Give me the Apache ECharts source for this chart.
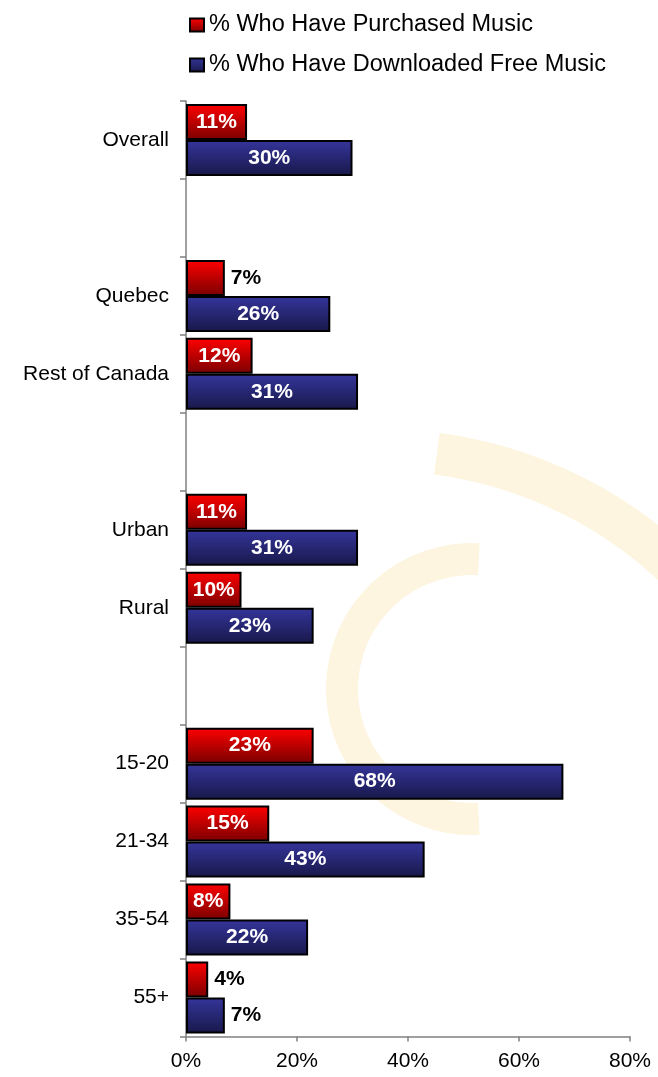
<!DOCTYPE html>
<html><head><meta charset="utf-8">
<script src="https://cdn.jsdelivr.net/npm/echarts@6/dist/echarts.min.js"></script>
<style>html,body{margin:0;padding:0;background:#fff}#c{width:658px;height:1077px}</style>
</head><body><div id="c"></div>
<script>
const categories = ['Overall', ' ', 'Quebec', 'Rest of Canada', '  ', 'Urban', 'Rural', '   ', '15-20', '21-34', '35-54', '55+'];
const purchased = [11, null, 7, 12, null, 11, 10, null, 23, 15, 8, 4];
const downloadedFree = [30, null, 26, 31, null, 31, 23, null, 68, 43, 22, 7];
const seriesNames = ['% Who Have Purchased Music', '% Who Have Downloaded Free Music'];
const xTickValues = [0, 20, 40, 60, 80];

const FONT = 'Liberation Sans, Arial, sans-serif';
const redGrad = new echarts.graphic.LinearGradient(0, 0, 0, 1, [
  {offset: 0, color: '#ff0000'}, {offset: 1, color: '#7a0000'}]);
const blueGrad = new echarts.graphic.LinearGradient(0, 0, 0, 1, [
  {offset: 0, color: '#35359c'}, {offset: 1, color: '#18184a'}]);

function withLabels(arr) {
  return arr.map(v => {
    if (v === null) return null;
    if (v < 8) return {value: v, label: {position: 'right', color: '#000', distance: 6}};
    return v;
  });
}

const chart = echarts.init(document.getElementById('c'), null, {renderer: 'canvas'});
const labelBase = {show: true, position: 'inside', color: '#fff', fontWeight: 'bold', fontSize: 21, fontFamily: FONT, formatter: p => p.value + '%'};

chart.setOption({
  animation: false,
  backgroundColor: '#ffffff',
  textStyle: {fontFamily: FONT},
  graphic: [
    {type: 'arc', z: -10, silent: true,
      shape: {cx: 380, cy: 880, r: 430, startAngle: -82.4 * Math.PI / 180, endAngle: -5 * Math.PI / 180, clockwise: true},
      style: {stroke: '#fdf5e0', lineWidth: 42, fill: null}},
    {type: 'arc', z: -10, silent: true,
      shape: {cx: 472, cy: 689, r: 130, startAngle: 87 * Math.PI / 180, endAngle: 273 * Math.PI / 180, clockwise: true},
      style: {stroke: '#fdf5e0', lineWidth: 32, fill: null}}
  ],
  legend: {
    orient: 'vertical', left: 184, top: 8,
    icon: 'rect',
    itemWidth: 14, itemHeight: 13, itemGap: 16,
    textStyle: {fontSize: 23.5, color: '#000', fontFamily: FONT},
    data: seriesNames
  },
  grid: {left: 186, right: 28, top: 101, bottom: 40.5, containLabel: false},
  xAxis: {
    type: 'value', min: 0, max: 80, interval: 20,
    axisLine: {show: true, lineStyle: {color: '#808080', width: 1.5}},
    axisTick: {show: true, length: 5, lineStyle: {color: '#808080', width: 1.5}},
    splitLine: {show: false},
    axisLabel: {fontSize: 21, color: '#000', margin: 14, fontFamily: FONT, formatter: v => xTickValues.includes(v) ? v + '%' : ''}
  },
  yAxis: {
    type: 'category', inverse: true, data: categories,
    axisLine: {show: true, lineStyle: {color: '#808080', width: 1.5}},
    axisTick: {show: true, length: 6, lineStyle: {color: '#808080', width: 1.5}},
    axisLabel: {fontSize: 21, color: '#000', margin: 17, fontFamily: FONT}
  },
  series: [
    {name: seriesNames[0], type: 'bar', data: withLabels(purchased), barWidth: 36, barGap: '0%',
      itemStyle: {color: redGrad, borderColor: '#000', borderWidth: 2}, label: labelBase},
    {name: seriesNames[1], type: 'bar', data: withLabels(downloadedFree), barWidth: 36, barGap: '0%',
      itemStyle: {color: blueGrad, borderColor: '#000', borderWidth: 2}, label: labelBase}
  ]
});
</script></body></html>
